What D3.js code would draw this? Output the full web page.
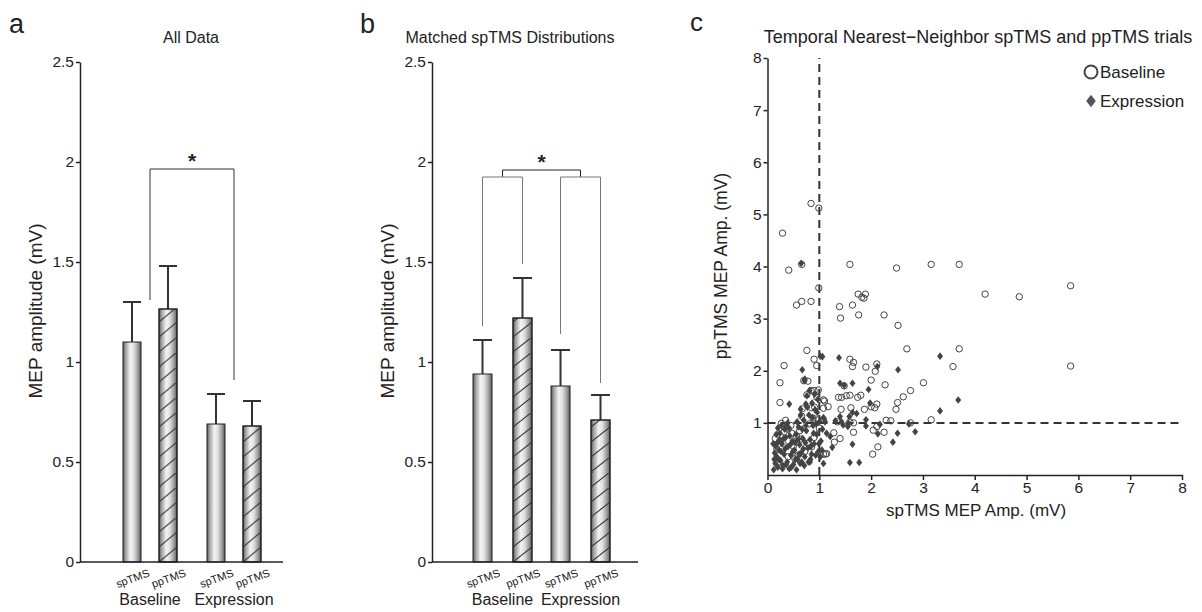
<!DOCTYPE html>
<html>
<head>
<meta charset="utf-8">
<script src="https://cdn.jsdelivr.net/npm/d3@7"></script>
<style>
  body { margin: 0; background: #fff; }
  text { font-family: Arial, "Liberation Sans", sans-serif; fill: #222; }
  .axis path, .axis line { stroke: #222; stroke-width: 1.5; }
</style>
</head>
<body>
<svg id="fig" width="1202" height="612"></svg>
<script>
// bar panels
var groups = ["Baseline", "Expression"];
var pulses = ["spTMS", "ppTMS"];
var allMeans = [1.10, 1.265, 0.69, 0.68];
var allErrors = [0.20, 0.215, 0.15, 0.125];
var matchedMeans = [0.94, 1.22, 0.88, 0.71];
var matchedErrors = [0.17, 0.20, 0.18, 0.125];
var barTicks = [0, 0.5, 1, 1.5, 2, 2.5];

// scatter panel
var scatterXTicks = [0, 1, 2, 3, 4, 5, 6, 7, 8];
var scatterYTicks = [1, 2, 3, 4, 5, 6, 7, 8];
var cutoff = 1;

var baselinePts = [
  [0.29,4.64],[0.84,5.21],[0.99,5.12],[0.41,3.93],[0.66,4.04],[1.59,4.04],[2.49,3.97],[3.16,4.04],
  [3.70,4.04],[0.99,3.59],[1.75,3.47],[1.89,3.47],[1.82,3.41],[1.86,3.39],[4.20,3.47],[4.86,3.42],
  [5.85,3.63],[5.85,2.09],[0.56,3.26],[0.66,3.33],[0.84,3.33],[1.39,3.23],[1.41,3.01],[1.64,3.26],
  [1.76,3.07],[2.25,3.07],[2.52,2.87],[0.76,2.39],[0.90,2.22],[0.95,2.10],[0.32,2.10],[1.59,2.22],
  [1.66,2.16],[1.64,2.08],[1.90,2.07],[2.69,2.42],[3.70,2.42],[3.58,2.08],[2.11,2.13],[2.08,1.99],
  [2.00,1.82],[0.24,1.77],[0.70,1.81],[0.78,1.80],[1.48,1.71],[2.27,1.73],[3.01,1.77],[0.84,1.62],
  [0.90,1.62],[0.98,1.63],[1.59,1.53],[1.52,1.52],[1.80,1.53],[1.74,1.49],[1.37,1.49],[1.43,1.49],
  [2.76,1.62],[2.62,1.50],[0.24,1.39],[1.08,1.44],[2.51,1.39],[2.48,1.26],[1.87,1.26],[2.07,1.29],
  [2.11,1.36],[2.00,1.31],[1.42,1.26],[1.61,1.29],[0.67,1.27],[0.85,1.29],[0.91,1.30],[1.08,1.28],
  [2.29,1.05],[2.38,1.04],[2.76,1.00],[3.16,1.06],[1.35,1.02],[1.59,1.02],[1.66,1.00],[2.04,0.86],
  [2.25,0.82],[2.11,0.93],[1.66,0.82],[1.28,0.81],[1.40,0.70],[1.29,0.63],[2.13,0.54],[2.03,0.40],
  [1.12,0.40],[1.08,0.40],[1.14,0.41],[0.53,0.31],[0.76,1.54],[0.95,1.49],[1.10,1.42],[1.17,1.31],
  [0.66,1.13],[0.88,1.09],[0.98,1.06],[1.08,1.06],[0.27,0.99],[0.40,0.88],[0.47,0.80],[0.56,0.75],
  [0.32,0.83],[0.65,0.69],[0.79,0.61],[0.85,0.54],[0.59,0.38],[0.40,0.35],[0.18,0.50],[0.22,0.25],
  [0.30,0.60],[0.45,0.95],[0.50,0.55],[0.62,0.85],[0.72,0.45],[0.80,0.98],[0.90,0.72],[1.00,0.90],
  [0.35,1.05],[0.15,0.70]
];

var expressionPts = [
  [0.65,4.06],[1.02,2.28],[1.06,2.27],[1.38,2.25],[0.67,2.02],[0.72,1.84],[0.71,1.81],[2.12,2.08],
  [2.52,2.02],[3.33,2.28],[3.68,1.44],[3.33,1.23],[1.64,1.76],[1.40,1.76],[1.48,1.72],[1.95,1.64],
  [1.98,1.38],[0.42,1.36],[0.74,1.36],[0.64,1.26],[1.64,1.20],[1.72,1.18],[1.58,1.12],[1.40,1.12],
  [1.31,1.04],[1.43,1.02],[1.46,0.96],[1.55,0.93],[1.56,0.99],[1.90,1.06],[1.90,0.94],[2.17,0.97],
  [2.73,0.98],[2.51,0.80],[2.85,0.83],[2.42,0.63],[2.13,0.79],[1.64,0.59],[1.25,0.53],[1.59,0.24],
  [1.77,0.24],[1.08,0.22],[0.82,0.25],[0.66,0.25],[1.11,1.02],[1.14,0.80],[1.21,0.74],
  [0.12,0.10],[0.15,0.22],[0.18,0.35],[0.20,0.15],[0.22,0.48],[0.25,0.28],[0.14,0.42],[0.28,0.60],
  [0.30,0.18],[0.32,0.40],[0.35,0.72],[0.19,0.62],[0.24,0.80],[0.38,0.25],[0.40,0.55],[0.42,0.12],
  [0.45,0.38],[0.48,0.65],[0.27,0.95],[0.33,0.88],[0.50,0.20],[0.52,0.48],[0.55,0.78],[0.58,0.30],
  [0.60,0.92],[0.62,0.58],[0.65,0.42],[0.68,0.70],[0.70,1.05],[0.72,0.35],[0.75,0.85],[0.78,0.52],
  [0.80,1.15],[0.82,0.68],[0.85,0.40],[0.88,0.95],[0.90,0.60],[0.92,1.25],[0.95,0.78],[0.98,0.45],
  [1.00,1.02],[1.03,0.65],[1.06,0.88],[0.16,0.55],[0.21,0.30],[0.23,0.68],[0.29,0.12],[0.34,0.50],
  [0.37,0.95],[0.43,0.75],[0.46,0.15],[0.53,0.62],[0.57,1.02],[0.63,0.22],[0.67,0.88],[0.73,0.62],
  [0.77,1.30],[0.83,0.30],[0.87,1.10],[0.93,0.38],[0.97,1.45],[0.13,0.30],[0.17,0.78],[0.26,0.45],
  [0.31,0.70],[0.36,0.20],[0.41,0.90],[0.49,0.45],[0.54,0.30],[0.59,0.68],[0.64,1.15],[0.69,0.50],
  [0.74,0.95],[0.79,0.25],[0.84,0.55],[0.89,0.80],[0.94,0.98],[0.99,0.60],[0.96,1.20],[0.86,1.38],
  [0.76,1.52],[0.81,1.62],[0.91,1.55],[0.20,0.90],[0.11,0.60],[0.39,1.00],[0.44,0.58],[0.56,0.10],
  [0.61,0.40],[0.71,0.18],[1.05,0.48],[1.08,1.10],[1.02,0.35]
];

var svg = d3.select("#fig");
var defs = svg.append("defs");

var grad = defs.append("linearGradient")
  .attr("id", "cyl")
  .attr("x1", 0).attr("x2", 1).attr("y1", 0).attr("y2", 0);
[[0, "#5a5a5a"], [0.15, "#a2a2a2"], [0.4, "#f3f3f3"], [0.6, "#e0e0e0"], [0.85, "#979797"], [1, "#555"]]
  .forEach(function(s) { grad.append("stop").attr("offset", s[0]).attr("stop-color", s[1]); });

function styleAxis(sel) {
  sel.selectAll("text")
    .style("font-size", "15.5px")
    .style("fill", "#222");
}

function drawBars(cfg) {
  var y = d3.scaleLinear().domain([0, 2.5]).range([562, 62]);

  var xg = d3.scaleBand()
    .domain(groups)
    .range([cfg.barStart, cfg.barEnd])
    .paddingInner(cfg.groupPad);

  var xi = d3.scaleBand()
    .domain(pulses)
    .range([0, xg.bandwidth()])
    .paddingInner(cfg.pulsePad);

  var bw = xi.bandwidth();
  var data = [];
  groups.forEach(function(g, gi) {
    pulses.forEach(function(p, pi) {
      var k = gi * 2 + pi;
      data.push({group: g, pulse: p, mean: cfg.means[k], err: cfg.errors[k], id: cfg.name + k});
    });
  });

  function left(d) { return xg(d.group) + xi(d.pulse); }
  function mid(g, p) { return xg(g) + xi(p) + bw / 2; }
  function gmid(g) { return xg(g) + xg.bandwidth() / 2; }

  // hatch patterns per bar so lines start at the bar edge
  data.filter(function(d) { return d.pulse == "ppTMS"; }).forEach(function(d) {
    var pat = defs.append("pattern")
      .attr("id", "hatch-" + d.id)
      .attr("patternUnits", "userSpaceOnUse")
      .attr("x", left(d)).attr("y", y(0))
      .attr("width", bw).attr("height", 15);
    pat.append("line")
      .attr("x1", 0).attr("y1", 15).attr("x2", bw).attr("y2", 0)
      .attr("stroke", "#333").attr("stroke-width", 1);
  });

  var g = svg.append("g");

  // error bars (drawn first, bars sit on top)
  g.selectAll(".err")
    .data(data)
    .enter().append("path")
    .attr("d", function(d) {
      var cx = left(d) + bw / 2;
      return "M" + cx + "," + y(d.mean) + "V" + y(d.mean + d.err) +
             "M" + left(d) + "," + y(d.mean + d.err) + "H" + (left(d) + bw);
    })
    .attr("stroke", "#333")
    .attr("stroke-width", 2)
    .attr("fill", "none");

  g.selectAll(".bar")
    .data(data)
    .enter().append("rect")
    .attr("x", left)
    .attr("y", function(d) { return y(d.mean); })
    .attr("width", bw)
    .attr("height", function(d) { return y(0) - y(d.mean); })
    .attr("fill", "url(#cyl)")
    .attr("stroke", "#222")
    .attr("stroke-width", 1);

  g.selectAll(".hatch")
    .data(data.filter(function(d) { return d.pulse == "ppTMS"; }))
    .enter().append("rect")
    .attr("x", left)
    .attr("y", function(d) { return y(d.mean); })
    .attr("width", bw)
    .attr("height", function(d) { return y(0) - y(d.mean); })
    .attr("fill", function(d) { return "url(#hatch-" + d.id + ")"; })
    .attr("stroke", "#222")
    .attr("stroke-width", 1);

  // axes
  g.append("g")
    .attr("class", "axis")
    .attr("transform", "translate(" + cfg.axisX + ",0)")
    .call(d3.axisLeft(y).tickValues(barTicks).tickFormat(d3.format("~g")).tickSize(4).tickSizeOuter(0).tickPadding(2))
    .call(styleAxis);

  g.append("line")
    .attr("x1", cfg.axisX).attr("x2", cfg.axisEnd)
    .attr("y1", y(0)).attr("y2", y(0))
    .attr("stroke", "#222").attr("stroke-width", 1.5);

  // sub labels
  g.selectAll(".pl")
    .data(data)
    .enter().append("text")
    .attr("transform", function(d) { return "translate(" + (left(d) + bw / 2 + 2) + ",582) rotate(-20)"; })
    .attr("text-anchor", "middle")
    .style("font-size", "11px")
    .text(function(d) { return d.pulse; });

  g.selectAll(".gl")
    .data(groups)
    .enter().append("text")
    .attr("x", function(d) { return gmid(d); })
    .attr("y", 605)
    .attr("text-anchor", "middle")
    .style("font-size", "16px")
    .text(function(d) { return d; });

  g.append("text")
    .attr("transform", "translate(" + cfg.labelX + ",311) rotate(-90)")
    .attr("text-anchor", "middle")
    .style("font-size", "19px")
    .text("MEP amplitude (mV)");

  g.append("text")
    .attr("x", cfg.titleX).attr("y", 43)
    .attr("text-anchor", "middle")
    .style("font-size", "16px")
    .text(cfg.title);

  g.append("text")
    .attr("x", cfg.letterX).attr("y", 33)
    .style("font-size", "27px")
    .text(cfg.letter);

  cfg.brackets(g, y, mid, gmid);
}

function star(g, x, yy) {
  g.append("text")
    .attr("x", x).attr("y", yy + 13)
    .attr("text-anchor", "middle")
    .style("font-size", "21px")
    .style("font-weight", "bold")
    .text("*");
}

drawBars({
  name: "a", means: allMeans, errors: allErrors,
  barStart: 123, barEnd: 261, groupPad: 0.357, pulsePad: 0.5,
  axisX: 80, axisEnd: 283, labelX: 42, titleX: 191, title: "All Data",
  letter: "a", letterX: 9,
  brackets: function(g, y, mid, gmid) {
    g.append("path")
      .attr("d", "M" + gmid("Baseline") + "," + y(1.31) + "V" + y(1.965) +
                 "H" + gmid("Expression") + "V" + y(0.91))
      .attr("fill", "none").attr("stroke", "#333").attr("stroke-width", 1);
    star(g, (gmid("Baseline") + gmid("Expression")) / 2, y(1.965) - 14);
  }
});

drawBars({
  name: "b", means: matchedMeans, errors: matchedErrors,
  barStart: 473, barEnd: 610, groupPad: 0.244, pulsePad: 0.525,
  axisX: 432, axisEnd: 638, labelX: 394, titleX: 510, title: "Matched spTMS Distributions",
  letter: "b", letterX: 360,
  brackets: function(g, y, mid, gmid) {
    g.append("path")
      .attr("d", "M" + gmid("Baseline") + "," + y(1.925) + "V" + y(1.96) +
                 "H" + gmid("Expression") + "V" + y(1.925))
      .attr("fill", "none").attr("stroke", "#222").attr("stroke-width", 1);
    g.append("path")
      .attr("d", "M" + mid("Baseline", "spTMS") + "," + y(1.18) + "V" + y(1.925) +
                 "H" + mid("Baseline", "ppTMS") + "V" + y(1.49))
      .attr("fill", "none").attr("stroke", "#777").attr("stroke-width", 1);
    g.append("path")
      .attr("d", "M" + mid("Expression", "spTMS") + "," + y(1.14) + "V" + y(1.925) +
                 "H" + mid("Expression", "ppTMS") + "V" + y(0.895))
      .attr("fill", "none").attr("stroke", "#777").attr("stroke-width", 1);
    star(g, (gmid("Baseline") + gmid("Expression")) / 2, y(1.96) - 14);
  }
});

// panel c
function drawScatter() {
  var x = d3.scaleLinear().domain([0, 8]).range([767.5, 1182]);
  var y = d3.scaleLinear().domain([0, 8]).range([475, 58]);
  var g = svg.append("g");
  var rhomb = d3.symbol().type(d3.symbolSquare);

  g.append("line")
    .attr("x1", x(cutoff)).attr("x2", x(cutoff))
    .attr("y1", y(0)).attr("y2", y(8))
    .attr("stroke", "#333").attr("stroke-width", 2).attr("stroke-dasharray", "8,5");
  g.append("line")
    .attr("x1", x(0)).attr("x2", x(8))
    .attr("y1", y(cutoff)).attr("y2", y(cutoff))
    .attr("stroke", "#333").attr("stroke-width", 2).attr("stroke-dasharray", "8,5");

  g.selectAll(".exp")
    .data(expressionPts)
    .enter().append("path")
    .attr("d", rhomb.size(22))
    .attr("transform", function(d) { return "translate(" + x(d[0]) + "," + y(d[1]) + ") scale(0.9,1.15) rotate(45)"; })
    .attr("fill", "#444");

  g.selectAll(".base")
    .data(baselinePts)
    .enter().append("circle")
    .attr("cx", function(d) { return x(d[0]); })
    .attr("cy", function(d) { return y(d[1]); })
    .attr("r", 3.2)
    .attr("fill", "none")
    .attr("stroke", "#444")
    .attr("stroke-width", 1);

  g.append("g")
    .attr("class", "axis")
    .attr("transform", "translate(0," + y(0) + ")")
    .call(d3.axisBottom(x).tickValues(scatterXTicks).tickFormat(d3.format("d")).tickSize(5).tickSizeOuter(0).tickPadding(2))
    .call(styleAxis);

  g.append("g")
    .attr("class", "axis")
    .attr("transform", "translate(" + x(0) + ",0)")
    .call(d3.axisLeft(y).tickValues(scatterYTicks).tickFormat(d3.format("d")).tickSize(4).tickSizeOuter(0).tickPadding(2))
    .call(styleAxis);

  g.append("text")
    .attr("x", 976).attr("y", 516)
    .attr("text-anchor", "middle")
    .style("font-size", "17px")
    .text("spTMS MEP Amp. (mV)");

  g.append("text")
    .attr("transform", "translate(727,266) rotate(-90)")
    .attr("text-anchor", "middle")
    .style("font-size", "17.5px")
    .text("ppTMS MEP Amp. (mV)");

  g.append("text")
    .attr("x", 978).attr("y", 43)
    .attr("text-anchor", "middle")
    .style("font-size", "18px")
    .text("Temporal Nearest\u2212Neighbor spTMS and ppTMS trials");

  g.append("text")
    .attr("x", 690).attr("y", 31)
    .style("font-size", "26px")
    .text("c");

  // legend
  g.append("circle")
    .attr("cx", 1091).attr("cy", 72).attr("r", 6.5)
    .attr("fill", "none").attr("stroke", "#444").attr("stroke-width", 2);
  g.append("text")
    .attr("x", 1100).attr("y", 78)
    .style("font-size", "17px")
    .text("Baseline");
  g.append("path")
    .attr("d", rhomb.size(64))
    .attr("transform", "translate(1091,101) scale(0.85,1.1) rotate(45)")
    .attr("fill", "#555");
  g.append("text")
    .attr("x", 1100).attr("y", 107)
    .style("font-size", "17px")
    .text("Expression");
}

drawScatter();
</script>
</body>
</html>
